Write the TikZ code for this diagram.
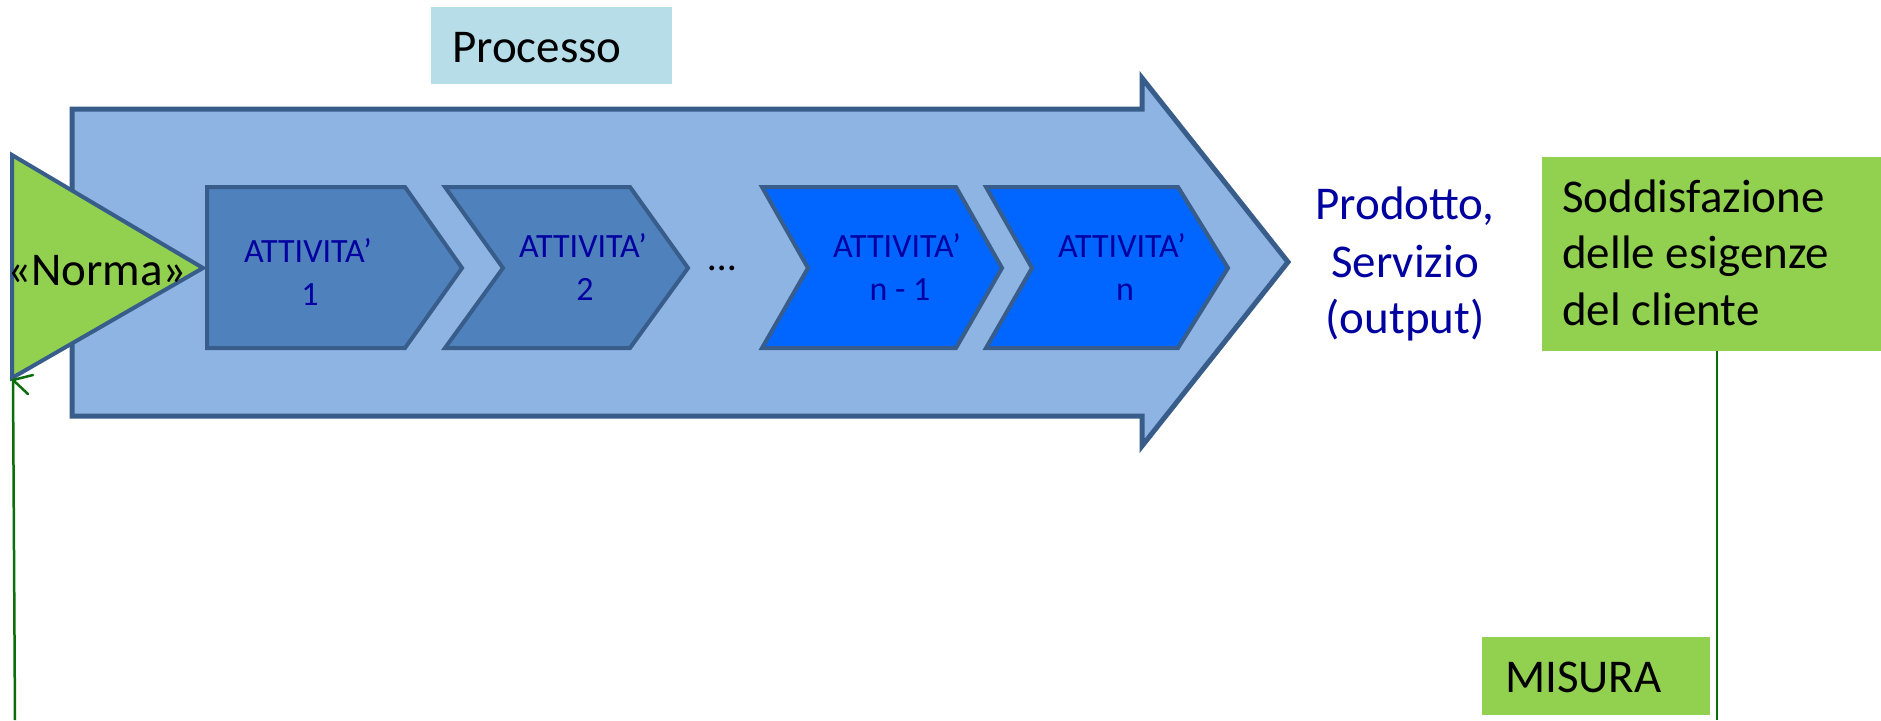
\documentclass[tikz,border=0pt]{standalone}
\usepackage{fontspec}
\setmainfont{Carlito}
\usetikzlibrary{arrows.meta}
\definecolor{arrowfill}{HTML}{8EB4E3}
\definecolor{edge}{HTML}{385D8A}
\definecolor{actA}{HTML}{4F81BD}
\definecolor{actB}{HTML}{0066FF}
\definecolor{greenbox}{HTML}{92D050}
\definecolor{tealbox}{HTML}{B7DEE8}
\definecolor{navytext}{RGB}{0,0,160}
\definecolor{loopgreen}{RGB}{10,110,10}
\begin{document}
\begin{tikzpicture}[x=1pt,y=-1pt,
  bigtext/.style={font=\fontsize{47}{57}\selectfont, inner sep=0pt},
  acttext/.style={font=\fontsize{34}{41}\selectfont, text=navytext, inner sep=0pt, anchor=base},
  outtext/.style={font=\fontsize{47}{57}\selectfont, text=navytext, inner sep=0pt, anchor=base},
  blktext/.style={bigtext, text=black, anchor=base west},
  outline/.style={draw=edge, line width=4pt, line join=miter},
  flatbox/.style={inner sep=0pt, anchor=north west, draw=none},
  loopline/.style={draw=loopgreen, line width=2.5pt}
]
\useasboundingbox (0,0) rectangle (1881,720);
\fill[white] (0,0) rectangle (1881,720);

% Processo label
\node[flatbox, fill=tealbox, minimum width=241pt, minimum height=77pt] (procbox) at (431,7) {};
\node[blktext] (proc) at (452,62) {Processo};

% big process arrow
\draw[outline, line width=5pt, fill=arrowfill]
  (72,109) -- (1142,109) -- (1142,78) -- (1288,262) -- (1142,446) -- (1142,416) -- (72,416) -- cycle;

% Norma triangle
\draw[outline, fill=greenbox] (12,155) -- (203,268) -- (12,378) -- cycle;
\coordinate (nb) at (13,380);
\node[bigtext, anchor=base] (norma) at (97,285) {«Norma»};

% activities
\draw[outline, fill=actA] (207,187) -- (405,187) -- (462,268) -- (405,348) -- (207,348) -- cycle;
\draw[outline, fill=actA] (445,187) -- (630,187) -- (688,268) -- (630,348) -- (445,348) -- (503,268) -- cycle;
\draw[outline, fill=actB] (762,187) -- (956,187) -- (1002,268) -- (956,348) -- (762,348) -- (808,268) -- cycle;
\draw[outline, fill=actB] (986,187) -- (1178,187) -- (1228,268) -- (1178,348) -- (986,348) -- (1032,268) -- cycle;

\node[acttext] (a1a) at (308,262) {ATTIVITA’};
\node[acttext] (a1b) at (310,305) {1};
\node[acttext] (a2a) at (583,257) {ATTIVITA’};
\node[acttext] (a2b) at (585,300) {2};
\node[acttext] (a3a) at (897,257) {ATTIVITA’};
\node[acttext] (a3b) at (900,300) {n - 1};
\node[acttext] (a4a) at (1122,257) {ATTIVITA’};
\node[acttext] (a4b) at (1125,300) {n};

\node[font=\fontsize{40}{48}\selectfont, inner sep=0pt, anchor=base] (dots) at (722,270) {…};

% output
\node[outtext] (p1) at (1405,219) {Prodotto,};
\node[outtext] (p2) at (1405,277) {Servizio};
\node[outtext] (p3) at (1405,333) {(output)};

% customer satisfaction
\node[flatbox, fill=greenbox, minimum width=339pt, minimum height=194pt] (sodd) at (1542,157) {};
\node[blktext] (s1) at (1562,212) {Soddisfazione};
\node[blktext] (s2) at (1562,268) {delle esigenze};
\node[blktext] (s3) at (1562,325) {del cliente};

% MISURA
\node[flatbox, fill=greenbox, minimum width=228pt, minimum height=78pt] (misbox) at (1482,637) {};
\node[blktext] (mis) at (1505,692) {MISURA};

% feedback lines
\coordinate (rb) at (1717,720);
\coordinate (lb) at (15,720);
\draw[loopline] (sodd.south -| rb) -- (rb);
\draw[loopline] (lb) -- (nb);
\draw[loopline, line cap=round] ([shift={(20,-5)}]nb) -- (nb) -- ([shift={(15,14)}]nb);
\end{tikzpicture}
\end{document}
